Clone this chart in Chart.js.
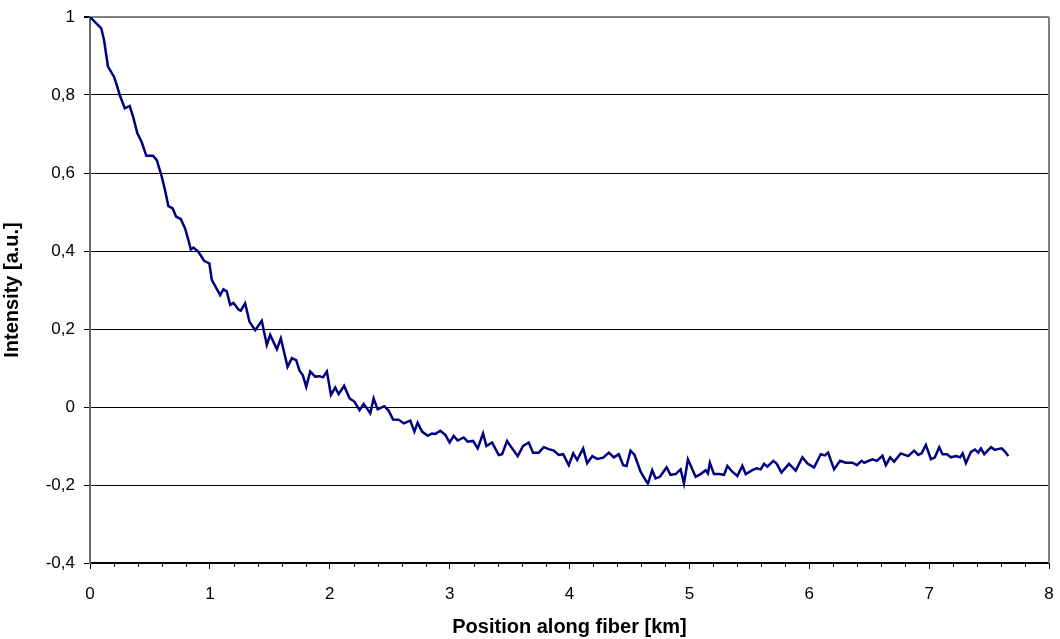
<!DOCTYPE html>
<html>
<head>
<meta charset="utf-8">
<script src="https://cdn.jsdelivr.net/npm/chart.js@4.4.1/dist/chart.umd.min.js"></script>
<style>
  html, body { margin: 0; padding: 0; background: #fff; }
  #wrap { width: 1060px; height: 639px; }
</style>
</head>
<body>
<div id="wrap"><canvas id="c" width="1060" height="639"></canvas></div>
<script>
// Position along fiber [km]
const positionKm = [
  0.000, 0.094, 0.117, 0.150, 0.200, 0.228, 0.248, 0.290, 0.331, 0.360,
  0.395, 0.430, 0.470, 0.526, 0.557, 0.599, 0.626, 0.654, 0.690, 0.718,
  0.757, 0.793, 0.821, 0.841, 0.863, 0.904, 0.952, 0.996, 1.016, 1.086,
  1.113, 1.141, 1.169, 1.197, 1.238, 1.258, 1.294, 1.330, 1.378, 1.433,
  1.475, 1.503, 1.559, 1.592, 1.648, 1.684, 1.720, 1.748, 1.775, 1.804,
  1.837, 1.879, 1.915, 1.943, 1.976, 2.010, 2.046, 2.074, 2.120, 2.166,
  2.205, 2.249, 2.283, 2.338, 2.366, 2.400, 2.455, 2.491, 2.528, 2.578,
  2.617, 2.672, 2.706, 2.733, 2.770, 2.817, 2.853, 2.881, 2.923, 2.965,
  3.000, 3.034, 3.067, 3.117, 3.151, 3.196, 3.234, 3.279, 3.307, 3.354,
  3.410, 3.438, 3.479, 3.521, 3.568, 3.613, 3.660, 3.696, 3.743, 3.785,
  3.827, 3.869, 3.910, 3.947, 3.994, 4.031, 4.064, 4.114, 4.147, 4.190,
  4.231, 4.281, 4.328, 4.370, 4.411, 4.448, 4.476, 4.509, 4.543, 4.593,
  4.626, 4.654, 4.690, 4.718, 4.754, 4.810, 4.843, 4.885, 4.927, 4.955,
  4.988, 5.052, 5.094, 5.136, 5.155, 5.171, 5.205, 5.247, 5.289, 5.317,
  5.358, 5.400, 5.442, 5.470, 5.525, 5.561, 5.595, 5.623, 5.651, 5.700,
  5.728, 5.768, 5.831, 5.887, 5.943, 5.985, 6.040, 6.096, 6.130, 6.157,
  6.207, 6.257, 6.305, 6.361, 6.397, 6.436, 6.458, 6.527, 6.563, 6.611,
  6.639, 6.675, 6.708, 6.764, 6.825, 6.875, 6.909, 6.937, 6.973, 7.015,
  7.048, 7.084, 7.112, 7.148, 7.182, 7.223, 7.259, 7.280, 7.307, 7.349,
  7.382, 7.410, 7.432, 7.460, 7.516, 7.549, 7.572, 7.605, 7.633, 7.660
];

// Intensity [a.u.]
const intensity = [
  1.000, 0.971, 0.941, 0.873, 0.847, 0.821, 0.800, 0.766, 0.772, 0.744,
  0.702, 0.680, 0.644, 0.644, 0.633, 0.590, 0.556, 0.515, 0.509, 0.488,
  0.482, 0.458, 0.428, 0.404, 0.409, 0.398, 0.375, 0.368, 0.326, 0.287,
  0.302, 0.296, 0.262, 0.267, 0.250, 0.247, 0.266, 0.219, 0.197, 0.221,
  0.159, 0.185, 0.148, 0.176, 0.103, 0.125, 0.120, 0.093, 0.082, 0.052,
  0.091, 0.078, 0.079, 0.076, 0.091, 0.031, 0.050, 0.033, 0.054, 0.022,
  0.014, -0.008, 0.008, -0.016, 0.022, -0.006, 0.002, -0.009, -0.032, -0.033,
  -0.042, -0.035, -0.063, -0.040, -0.063, -0.074, -0.068, -0.069, -0.061, -0.072,
  -0.091, -0.074, -0.086, -0.078, -0.089, -0.087, -0.106, -0.068, -0.100, -0.091,
  -0.123, -0.121, -0.087, -0.106, -0.126, -0.100, -0.091, -0.117, -0.117, -0.103,
  -0.108, -0.112, -0.123, -0.121, -0.149, -0.119, -0.136, -0.106, -0.144, -0.126,
  -0.133, -0.130, -0.117, -0.129, -0.121, -0.149, -0.151, -0.112, -0.123, -0.166,
  -0.183, -0.197, -0.162, -0.183, -0.179, -0.155, -0.174, -0.172, -0.160, -0.196,
  -0.134, -0.179, -0.172, -0.162, -0.170, -0.143, -0.172, -0.172, -0.174, -0.151,
  -0.166, -0.177, -0.151, -0.172, -0.162, -0.157, -0.160, -0.146, -0.153, -0.138,
  -0.145, -0.168, -0.146, -0.163, -0.129, -0.145, -0.155, -0.121, -0.124, -0.117,
  -0.160, -0.138, -0.143, -0.143, -0.149, -0.138, -0.143, -0.134, -0.138, -0.125,
  -0.149, -0.129, -0.140, -0.119, -0.126, -0.112, -0.123, -0.119, -0.097, -0.134,
  -0.129, -0.103, -0.121, -0.121, -0.129, -0.126, -0.129, -0.119, -0.144, -0.115,
  -0.109, -0.117, -0.106, -0.121, -0.103, -0.110, -0.108, -0.106, -0.114, -0.126
];

const xTicks = [0, 1, 2, 3, 4, 5, 6, 7, 8];
const xMinorStep = 0.2;

const points = positionKm.map((x, i) => ({ x: x, y: intensity[i] }));

// comma as decimal separator, like the original
function commaFmt(v) {
  const r = Math.round(v * 10) / 10;
  return String(r).replace('.', ',');
}

// minor ticks on the x axis and the grey right edge of the plot area
const frameExtras = {
  id: 'frameExtras',
  afterDraw(chart) {
    const ctx = chart.ctx;
    const area = chart.chartArea;
    const xs = chart.scales.x;
    ctx.save();
    ctx.strokeStyle = '#000';
    ctx.lineWidth = 1;
    for (let v = 0; v <= 8.0001; v += xMinorStep) {
      if (Math.abs(v - Math.round(v)) < 1e-6) continue;
      const px = Math.round(xs.getPixelForValue(v)) + 0.5;
      ctx.beginPath();
      ctx.moveTo(px, area.bottom);
      ctx.lineTo(px, area.bottom + 4);
      ctx.stroke();
    }
    ctx.strokeStyle = '#808080';
    ctx.lineWidth = 2;
    ctx.beginPath();
    ctx.moveTo(area.right, area.top);
    ctx.lineTo(area.right, area.bottom);
    ctx.stroke();
    ctx.restore();
  }
};

new Chart(document.getElementById('c'), {
  type: 'line',
  data: {
    datasets: [{
      data: points,
      borderColor: '#000080',
      borderWidth: 2.5,
      pointRadius: 0,
      tension: 0,
      fill: false
    }]
  },
  options: {
    responsive: false,
    animation: false,
    events: [],
    layout: { padding: { top: 17, right: 11, left: 0, bottom: 0 } },
    plugins: { legend: { display: false }, tooltip: { enabled: false } },
    scales: {
      x: {
        type: 'linear',
        min: 0,
        max: 8,
        afterBuildTicks: (s) => { s.ticks = xTicks.map(v => ({ value: v })); },
        afterFit: (s) => { s.height = 76; s.paddingLeft = 0; s.paddingRight = 0; },
        ticks: {
          color: '#000',
          font: { family: 'Liberation Sans', size: 17 },
          padding: 15,
          maxRotation: 0,
          callback: (v) => String(v)
        },
        grid: {
          drawOnChartArea: false,
          color: '#000',
          tickLength: 6
        },
        border: { color: '#000', width: 1.5 },
        title: {
          display: true,
          text: 'Position along fiber [km]',
          color: '#000',
          font: { family: 'Liberation Sans', size: 20, weight: 'bold' },
          padding: { top: 0, bottom: 0 }
        }
      },
      y: {
        min: -0.4,
        max: 1,
        afterFit: (s) => { s.width = 90; s.paddingTop = 0; s.paddingBottom = 0; },
        ticks: {
          stepSize: 0.2,
          color: '#000',
          font: { family: 'Liberation Sans', size: 17 },
          padding: 9,
          callback: (v) => commaFmt(v)
        },
        grid: {
          color: (c) => (c.tick && Math.abs(c.tick.value - 1) < 1e-6) ? '#808080' : '#000',
          lineWidth: (c) => (c.tick && Math.abs(c.tick.value - 1) < 1e-6) ? 2 : 1,
          tickColor: '#000',
          tickLength: 6
        },
        border: { color: '#666', width: 2 },
        title: {
          display: true,
          text: 'Intensity [a.u.]',
          color: '#000',
          font: { family: 'Liberation Sans', size: 20, weight: 'bold' },
          padding: { top: 0, bottom: 0 }
        }
      }
    }
  },
  plugins: [frameExtras]
});
</script>
</body>
</html>
